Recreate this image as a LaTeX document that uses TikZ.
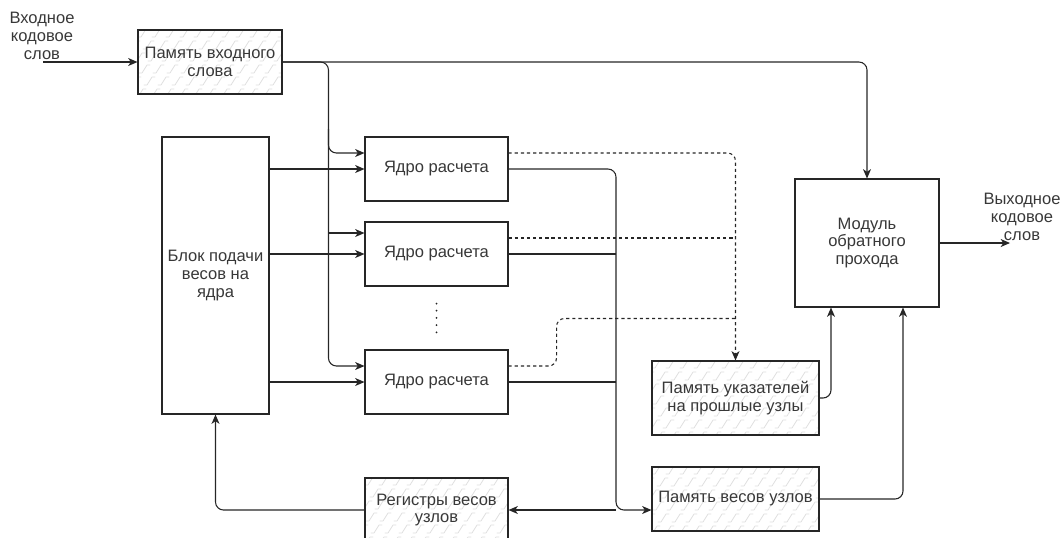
\documentclass[tikz,border=0pt]{standalone}
\usepackage{fontspec}
\setmainfont{Liberation Sans}
\usetikzlibrary{arrows.meta,calc}

\begin{document}
\begin{tikzpicture}[x=0.75pt,y=-0.75pt,
  font=\fontsize{12.4}{13.4}\selectfont,
  txt/.style={text=black!78, align=center},
  wh/.style 2 args={minimum width=#1*0.75pt, minimum height=#2*0.75pt},
  blk/.style={draw=black!85, line width=0.8pt, fill=white, inner sep=2pt, txt},
  hatchline/.style={draw=black!13, line width=0.55pt, line join=round, line cap=round},
  zz/.style={path picture={
    \foreach \r in {0,...,6}{\foreach \c in {-3,...,12}{
      \draw[hatchline] ([shift={(\c*14+\r*5,\r*12+7)}]path picture bounding box.north west)
        -- ++(3,0) -- ++(5,-8) -- ++(3,0);
    }}}},
  mem/.style={blk, zz},
  link/.style={draw=black!85, line width=0.8pt},
  arr/.style={link, -{Stealth[length=7pt,width=6pt,inset=2pt]}},
  dline/.style={link, dash pattern=on 2.4pt off 2.2pt},
  darr/.style={dline, -{Stealth[length=7pt,width=6pt,inset=2pt]}},
  vdots/.style={draw=black!85, line width=1.5pt, line cap=round, dash pattern=on 0pt off 5.4pt},
  rc/.style={rounded corners=6}
]
\useasboundingbox (0,0) rectangle (1064,537);
\clip (0,0) rectangle (1064,537);

% blocks
\node[mem, wh={144}{64}] (inmem) at (210,62) {Память входного\\слова};
\node[blk, wh={107}{277}] (feed) at (215.5,275.5) {Блок подачи\\весов на\\ядра};
\node[blk, wh={143}{64}] (core1) at (436.5,169) {Ядро расчета};
\node[blk, wh={143}{64}] (core2) at (436.5,254) {Ядро расчета};
\node[blk, wh={143}{64}] (core3) at (436.5,382) {Ядро расчета};
\node[blk, wh={144}{128}] (module) at (867,243) {Модуль\\обратного\\прохода};
\node[mem, wh={167}{74}] (ptr) at (735.5,398) {Память указателей\\на прошлые узлы};
\node[mem, wh={167}{64}] (wmem) at (735.5,499) {Память весов узлов};
\node[mem, wh={143}{64}] (regs) at (436.5,510) {Регистры весов\\узлов};

% input / output labels
\node[txt] (inlbl) at (42,36) {Входное\\кодовое\\слов};
\node[txt] (outlbl) at (1022,217) {Выходное\\кодовое\\слов};
\coordinate (instart) at (43,62);
\coordinate (outend) at (1010,243);
\coordinate (busend) at (616,510);

% input word
\draw[arr] (instart) -- (inmem.west);
\draw[arr, rc] (inmem.east) -| (module.north);
\draw[arr, rc] (inmem.east) -| ($(core3.west)+(-36,-16)$) -- ($(core3.west)+(0,-16)$);
\draw[arr, rc] ($(core1.west)+(-36,-40)$) |- ($(core1.west)+(0,-16)$);
\draw[arr] ($(core2.west)+(-36,-21)$) -- ($(core2.west)+(0,-21)$);

% weights to the cores
\draw[arr] (feed.east |- core1.west) -- (core1.west);
\draw[arr] (feed.east |- core2.west) -- (core2.west);
\draw[arr] (feed.east |- core3.west) -- (core3.west);

% core outputs bus
\draw[arr, rc] (core1.east) -| (busend) -- ($(wmem.west)+(0,11)$);
\draw[link] (core2.east) -- (core2.east -| busend);
\draw[link] (core3.east) -- (core3.east -| busend);
\draw[arr] (busend) -- (regs.east);
\draw[arr, rc] (regs.west) -| (feed.south);

% pointer paths
\draw[darr, rc] ($(core1.east)+(0,-16)$) -| (ptr.north);
\draw[dline] ($(core2.east)+(0,-16)$) -- ($(core2.east -| ptr.north)+(0,-16)$);
\draw[dline, rc] ($(core3.east)+(0,-16)$) -- ++(48,0) |- ($(ptr.north)+(0,-42)$);

% into the backtrace module
\draw[arr, rc] (ptr.east) -| ($(module.south)+(-36,0)$);
\draw[arr, rc] (wmem.east) -| ($(module.south)+(36,0)$);
\draw[arr] (module.east) -- (outend);

% more cores
\draw[vdots] ($(core2.south)+(0,17)$) -- ($(core3.north)+(0,-10)$);
\end{tikzpicture}
\end{document}
